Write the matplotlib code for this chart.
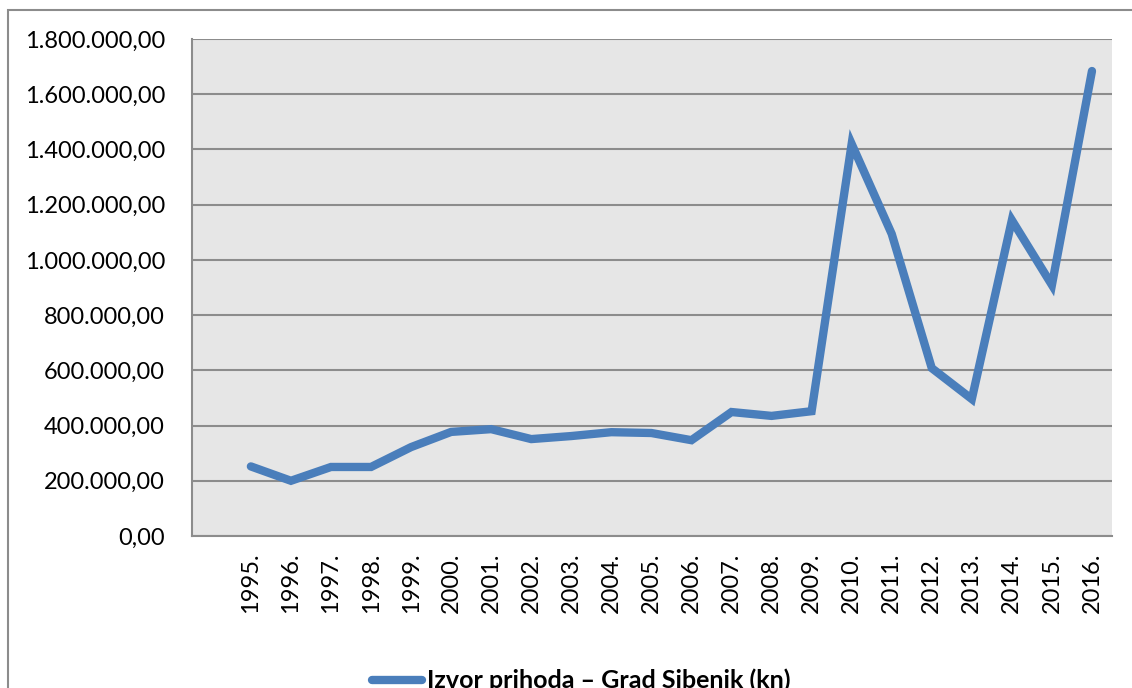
import matplotlib
matplotlib.use("Agg")
import matplotlib.pyplot as plt
from matplotlib.lines import Line2D
from matplotlib.patches import Rectangle
from matplotlib.ticker import FuncFormatter

years = ["1995.", "1996.", "1997.", "1998.", "1999.", "2000.", "2001.", "2002.",
         "2003.", "2004.", "2005.", "2006.", "2007.", "2008.", "2009.", "2010.",
         "2011.", "2012.", "2013.", "2014.", "2015.", "2016."]
values = [252000, 200000, 250000, 250000, 322000, 377000, 387000, 351000,
          362000, 376000, 373000, 347000, 449000, 435000, 452000, 1420000,
          1094000, 608000, 496000, 1144000, 909000, 1684000]
legend_label = "Izvor prihoda – Grad Sibenik (kn)"

W, H = 1132, 688
fig = plt.figure(figsize=(W / 100, H / 100), dpi=100)
plt.rcParams['font.family'] = ['Lato', 'DejaVu Sans']

# outer border
fig.patches.append(Rectangle((8 / W, -0.1), 1.2, (H - 10) / H + 0.1,
                             transform=fig.transFigure, fill=False,
                             edgecolor="#8c8c8c", linewidth=1.5, clip_on=False))

ax = fig.add_axes([192 / W, (H - 536) / H, (1112 - 192) / W, (536 - 39) / H])
ax.set_facecolor("#e6e6e6")
x = list(range(len(years)))
ax.plot(x, values, color="#4a7ebb", linewidth=6, solid_capstyle="round",
        solid_joinstyle="miter")
ax.set_xlim(-1.47, len(years) - 0.5)
ax.set_ylim(0, 1800000)
ax.set_yticks(range(0, 1800001, 200000))
ax.yaxis.set_major_formatter(FuncFormatter(
    lambda v, p: f"{v:,.2f}".replace(",", "X").replace(".", ",").replace("X", ".")))
ax.set_xticks(x)
ax.set_xticklabels(years, rotation=90)
ax.tick_params(axis="both", length=0, labelsize=17, colors="black")
ax.tick_params(axis="x", pad=12)
ax.tick_params(axis="y", pad=19.5)
ax.grid(axis="y", color="#8c8c8c", linewidth=1.5)
ax.set_axisbelow(True)
for s in ["top", "right"]:
    ax.spines[s].set_visible(False)
for s in ["left", "bottom"]:
    ax.spines[s].set_color("#8c8c8c")
    ax.spines[s].set_linewidth(1.5)

# legend (clipped at bottom like the reference)
ly = (H - 680) / H
fig.lines.append(Line2D([372 / W, 422 / W], [ly, ly], transform=fig.transFigure,
                        color="#4a7ebb", linewidth=6, solid_capstyle="round"))
fig.text(427 / W, ly, legend_label, fontsize=18, fontweight="bold",
         va="center", ha="left")

fig.savefig("out.png", dpi=100)
